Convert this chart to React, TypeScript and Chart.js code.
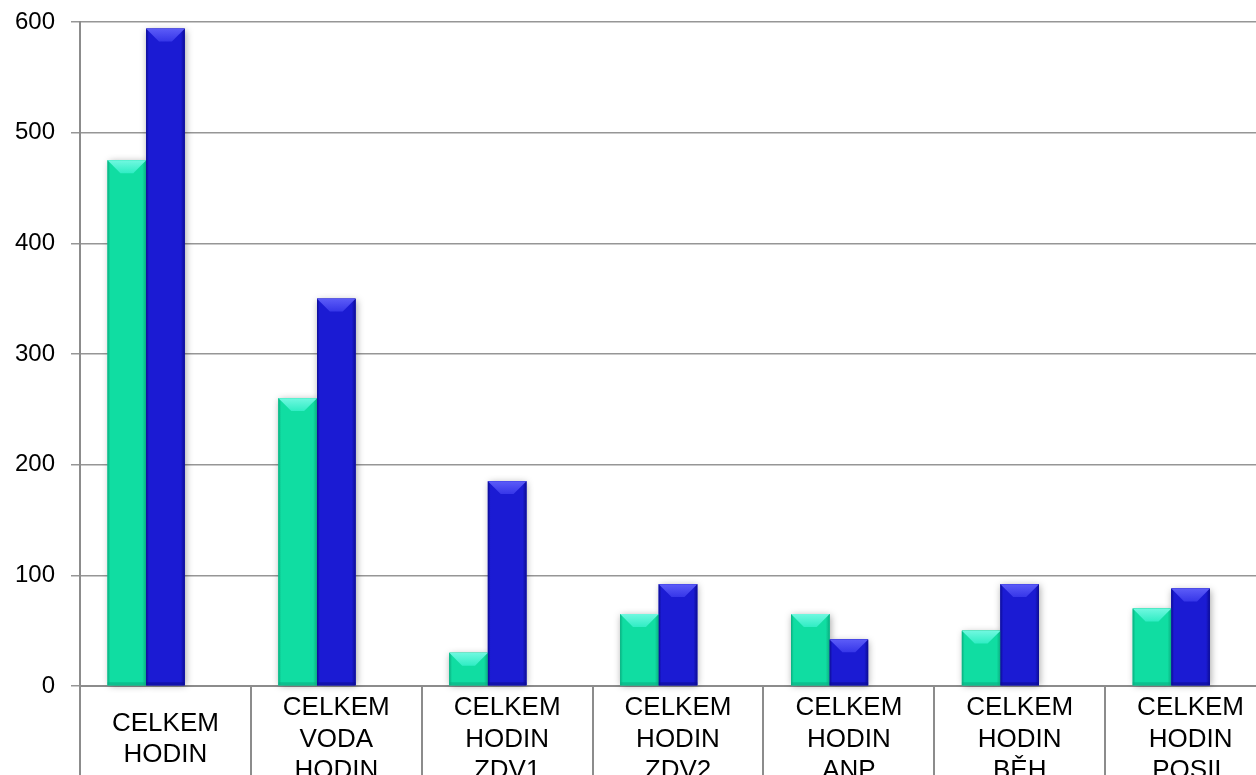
import React, { useEffect, useRef } from "react";
import { Chart, registerables } from "chart.js";

Chart.register(...registerables);

// Category labels (multi-line) and the two measured series
const categories: string[][] = [
  ["CELKEM", "HODIN"],
  ["CELKEM", "VODA", "HODIN"],
  ["CELKEM", "HODIN", "ZDV1"],
  ["CELKEM", "HODIN", "ZDV2"],
  ["CELKEM", "HODIN", "ANP"],
  ["CELKEM", "HODIN", "BĚH"],
  ["CELKEM", "HODIN", "POSIL"],
];
const seriesA: number[] = [475, 260, 30, 65, 65, 50, 70];
const seriesB: number[] = [594, 350, 185, 92, 42, 92, 88];
// Third series slot is present in the workbook but holds no values
const seriesC: (number | null)[] = [null, null, null, null, null, null, null];

const yMin = 0;
const yMax = 600;
const yStep = 100;

const CANVAS_W = 1276;
const CANVAS_H = 800;
const PLOT_TOP = 22;
const PLOT_BOTTOM = 686;
const PLOT_LEFT = 80;

type Palette = { base: string; light: string; dark: string; top: string };
const palettes: Palette[] = [
  { base: "#10DDA2", light: "#70F8E0", top: "#30EDC4", dark: "#0AAE80" },
  { base: "#1B1BD3", light: "#5C5CF8", top: "#3636E8", dark: "#0C0C94" },
];

const bevelBars = {
  id: "bevelBars",
  afterDatasetsDraw(chart: any) {
    const ctx: CanvasRenderingContext2D = chart.ctx;
    const items: { L: number; R: number; T: number; B: number; p: Palette }[] = [];
    chart.data.datasets.forEach((ds: any, di: number) => {
      const p = palettes[di];
      if (!p) return;
      const meta = chart.getDatasetMeta(di);
      meta.data.forEach((el: any, i: number) => {
        if (ds.data[i] == null) return;
        const { x, y, base, width } = el.getProps(["x", "y", "base", "width"], true);
        items.push({ L: x - width / 2, R: x + width / 2, T: Math.min(y, base), B: Math.max(y, base), p });
      });
    });
    ctx.save();
    // soft drop shadow under each bar
    items.forEach(({ L, R, T, B, p }) => {
      ctx.shadowColor = "rgba(0,0,0,0.35)";
      ctx.shadowBlur = 7;
      ctx.shadowOffsetX = 1;
      ctx.shadowOffsetY = 1;
      ctx.fillStyle = p.base;
      ctx.fillRect(L, T, R - L, B - T);
    });
    ctx.shadowColor = "transparent";
    ctx.shadowBlur = 0;
    ctx.shadowOffsetX = 0;
    ctx.shadowOffsetY = 0;
    items.forEach(({ L, R, T, B, p }) => {
      const w = R - L;
      const h = B - T;
      // body with darker side edges
      const g = ctx.createLinearGradient(L, 0, R, 0);
      g.addColorStop(0, p.dark);
      g.addColorStop(0.07, p.base);
      g.addColorStop(0.9, p.base);
      g.addColorStop(1, p.dark);
      ctx.fillStyle = g;
      ctx.fillRect(L, T, w, h);
      // slanted top face
      const d = Math.min(14, h / 2, w / 3);
      const tg = ctx.createLinearGradient(0, T, 0, T + d);
      tg.addColorStop(0, p.light);
      tg.addColorStop(1, p.top);
      ctx.fillStyle = tg;
      ctx.beginPath();
      ctx.moveTo(L, T);
      ctx.lineTo(R, T);
      ctx.lineTo(R - d, T + d);
      ctx.lineTo(L + d, T + d);
      ctx.closePath();
      ctx.fill();
      // darker foot
      const s = Math.min(3, h / 4);
      ctx.fillStyle = p.dark;
      ctx.globalAlpha = 0.6;
      ctx.fillRect(L, B - s, w, s);
      ctx.globalAlpha = 1;
    });
    ctx.restore();
  },
};

export default function App() {
  const canvasRef = useRef<HTMLCanvasElement | null>(null);

  useEffect(() => {
    const canvas = canvasRef.current;
    if (!canvas) return;
    const font = "'Liberation Sans', Arial, sans-serif";
    const chart = new Chart(canvas, {
      type: "bar",
      data: {
        labels: categories,
        datasets: [
          { label: "A", data: seriesA, backgroundColor: palettes[0].base, categoryPercentage: 0.677, barPercentage: 1 },
          { label: "B", data: seriesB, backgroundColor: palettes[1].base, categoryPercentage: 0.677, barPercentage: 1 },
          { label: "C", data: seriesC, backgroundColor: "transparent", categoryPercentage: 0.677, barPercentage: 1 },
        ],
      },
      options: {
        responsive: false,
        animation: false,
        devicePixelRatio: 1,
        layout: { padding: { top: PLOT_TOP, left: 0, right: 0, bottom: 0 } },
        plugins: { legend: { display: false }, tooltip: { enabled: false } },
        scales: {
          x: {
            offset: true,
            grid: {
              offset: true,
              drawOnChartArea: false,
              drawTicks: true,
              tickLength: 110,
              color: "#8c8c8c",
              lineWidth: 2,
            },
            border: { display: true, color: "#8c8c8c", width: 2 },
            ticks: {
              color: "#000",
              font: { family: font, size: 26, lineHeight: 1.21 },
              padding: -88,
              crossAlign: "center",
              maxRotation: 0,
              autoSkip: false,
            },
            afterFit: (scale: any) => {
              scale.height = CANVAS_H - PLOT_BOTTOM;
            },
          },
          y: {
            min: yMin,
            max: yMax,
            grid: { color: "#969696", lineWidth: 1.5, drawTicks: true, tickLength: 9 },
            border: { display: true, color: "#8c8c8c", width: 2 },
            ticks: {
              stepSize: yStep,
              color: "#000",
              font: { family: font, size: 24 },
              padding: 16,
            },
            afterFit: (scale: any) => {
              scale.width = PLOT_LEFT;
              scale.paddingTop = 0;
            },
          },
        },
      },
      plugins: [bevelBars],
    } as any);
    return () => chart.destroy();
  }, []);

  return (
    <div
      style={{
        position: "fixed",
        left: 0,
        top: 0,
        width: 1256,
        height: 775,
        overflow: "hidden",
        background: "#fff",
      }}
    >
      <canvas
        ref={canvasRef}
        width={CANVAS_W}
        height={CANVAS_H}
        style={{ width: CANVAS_W, height: CANVAS_H, display: "block" }}
      />
    </div>
  );
}
